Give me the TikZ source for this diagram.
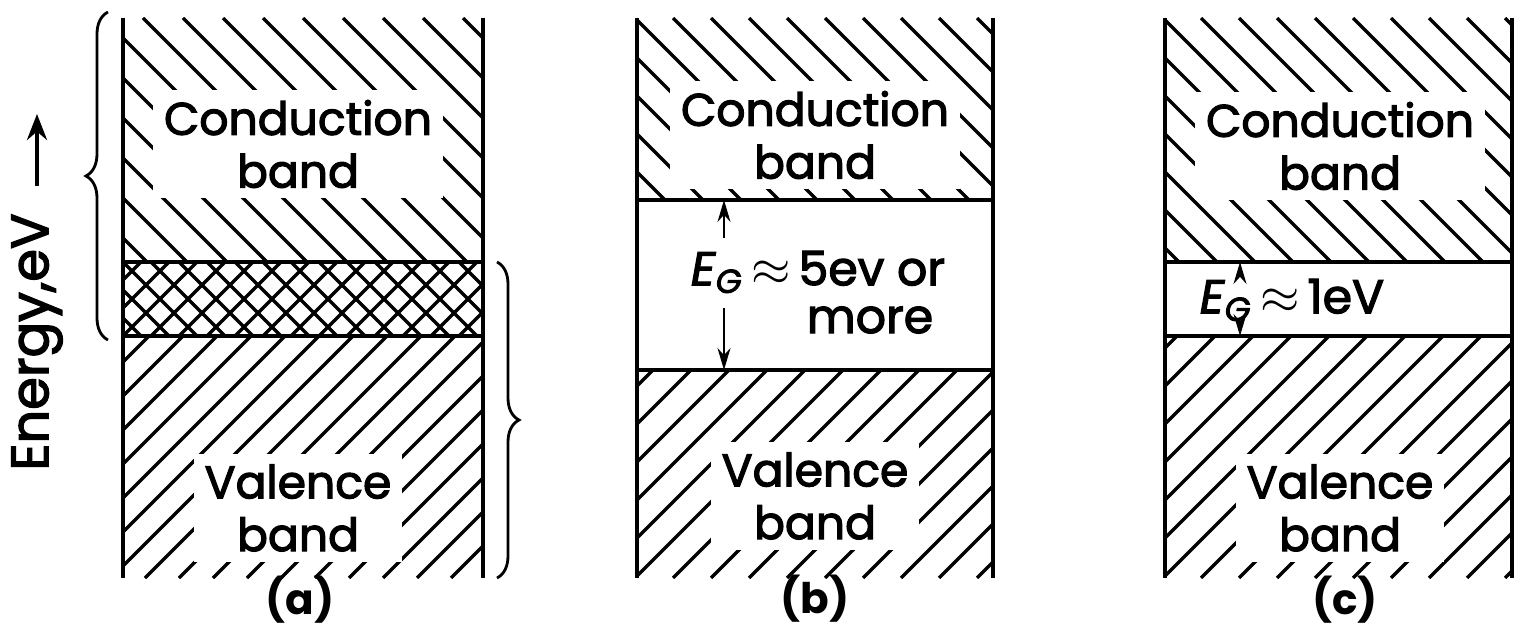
\documentclass[tikz,border=0pt]{standalone}
\usepackage{fontspec}
\setmainfont{Poppins}
\newfontfamily\bandfont{Poppins}[FakeBold=2.5]
\usetikzlibrary{arrows.meta,positioning,calc,decorations.pathreplacing}
\tikzset{
  wall/.style={line width=1.2pt},
  bandedge/.style={line width=1.3pt},
  hatch/.style={line width=0.95pt},
  bandlabel/.style={align=center, fill=white, inner sep=3pt, font=\bandfont\fontsize{13}{15}\selectfont},
  gaplabel/.style={inner sep=1pt, font=\bandfont\fontsize{13.5}{15}\selectfont},
  panellabel/.style={font=\bfseries\fontsize{12}{14}\selectfont},
  gaparrow/.style={-{Stealth[length=2.2mm,width=1.3mm]}, line width=0.5pt},
  energyarrow/.style={-{Stealth[length=2.6mm,width=2mm]}, line width=1.3pt},
  bracestyle/.style={decorate, decoration={brace, amplitude=2.2mm}, line width=0.8pt},
}
% hatching: x1, y1, x2, y2, spacing
\newcommand{\hatchback}[5]{%
  \begin{scope}
    \clip (#1,#2) rectangle (#3,#4);
    \foreach \i in {0,...,40} \draw[hatch] (#1-420+\i*#5,#2) -- ++(700,700);
  \end{scope}}
\newcommand{\hatchfwd}[5]{%
  \begin{scope}
    \clip (#1,#2) rectangle (#3,#4);
    \foreach \i in {0,...,40} \draw[hatch] (#1-420+\i*#5,#4) -- ++(700,-700);
  \end{scope}}
\newcommand{\gap}{\,$\approx$\,}

\begin{document}
\begin{tikzpicture}[x=0.1mm, y=-0.1mm]
  \useasboundingbox (0,0) rectangle (1520,629);

  % (a) Metal: overlapping bands
  \hatchback{123}{18}{483}{262}{40}
  \hatchback{123}{262}{483}{336}{28}
  \hatchfwd{123}{262}{483}{336}{28}
  \hatchfwd{123}{336}{483}{578}{34}
  \draw[wall] (123,18) -- (123,578);
  \draw[wall] (483,18) -- (483,578);
  \draw[bandedge] (123,262) -- (483,262);
  \draw[bandedge] (123,336) -- (483,336);
  \node[bandlabel] (condA) at (298,144) {Conduction\\band};
  \node[bandlabel] (valA) at (298,508) {Valence\\band};
  \node[panellabel] (labA) at (300,600) {(a)};
  \draw[bracestyle] (108,340) -- (108,12);
  \draw[bracestyle] (497,262) -- (497,578);

  % energy axis
  \node[rotate=90, font=\bandfont\fontsize{15}{17}\selectfont] (energy) at (37,342) {Energy,eV};
  \draw[energyarrow] ($(energy.east)+(0,-15)$) -- ++(0,-72);

  % (b) Insulator
  \hatchback{637}{18}{993}{200}{38}
  \hatchfwd{637}{370}{993}{578}{38}
  \draw[wall] (637,18) -- (637,578);
  \draw[wall] (993,18) -- (993,578);
  \draw[bandedge] (637,200) -- (993,200);
  \draw[bandedge] (637,370) -- (993,370);
  \node[bandlabel] (condB) at (815,135) {Conduction\\band};
  \node[bandlabel] (valB) at (815,496) {Valence\\band};
  \node[gaplabel] (gapB) at (818,272) {\textit{E}\textsubscript{\textit{G}}\gap 5ev or};
  \node[gaplabel] (moreB) at (870,320) {more};
  \coordinate (bUp) at (724,238);
  \coordinate (bDown) at (724,308);
  \coordinate (bCond) at (724,200);
  \coordinate (bVal) at (724,370);
  \draw[gaparrow] (bUp) -- (bCond);
  \draw[gaparrow] (bDown) -- (bVal);
  \node[panellabel] (labB) at (815,599) {(b)};

  % (c) Semiconductor
  \hatchback{1165}{18}{1512}{262}{38}
  \hatchfwd{1165}{336}{1512}{578}{38}
  \draw[wall] (1165,18) -- (1165,578);
  \draw[wall] (1512,18) -- (1512,578);
  \draw[bandedge] (1165,262) -- (1512,262);
  \draw[bandedge] (1165,336) -- (1512,336);
  \node[bandlabel] (condC) at (1340,146) {Conduction\\band};
  \node[bandlabel] (valC) at (1340,508) {Valence\\band};
  \node[gaplabel] (gapC) at (1292,300) {\textit{E}\textsubscript{\textit{G}}\gap 1eV};
  \coordinate (cUp) at (1240,277);
  \coordinate (cDown) at (1240,321);
  \coordinate (cCond) at (1240,262);
  \coordinate (cVal) at (1240,336);
  \draw[gaparrow] (cUp) -- (cCond);
  \draw[gaparrow] (cDown) -- (cVal);
  \node[panellabel] (labC) at (1345,600) {(c)};
\end{tikzpicture}
\end{document}
